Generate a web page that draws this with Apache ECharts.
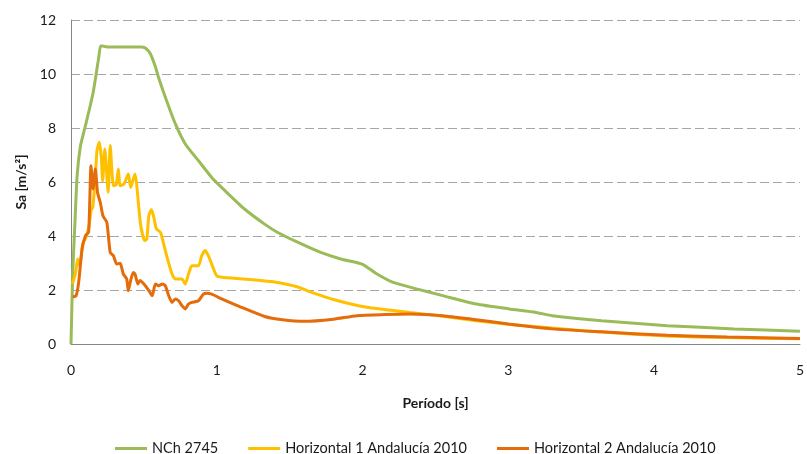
<!DOCTYPE html>
<html>
<head>
<meta charset="utf-8">
<script src="https://cdn.jsdelivr.net/npm/echarts@6/dist/echarts.min.js"></script>
<style>
html,body{margin:0;padding:0;background:#fff;}
#chart{width:807px;height:454px;}
</style>
</head>
<body>
<div id="chart"></div>
<script>
// NCh 2745 design spectrum
const nchT  = [0, 0.003, 0.012, 0.026, 0.042, 0.065, 0.095, 0.15, 0.19, 0.205, 0.25, 0.35, 0.45, 0.48, 0.51, 0.545, 0.58, 0.6, 0.647, 0.716, 0.784, 0.874, 0.965, 1.056, 1.19, 1.328, 1.418, 1.554, 1.713, 1.85, 1.997, 2.099, 2.21, 2.37, 2.55, 2.78, 3.005, 3.19, 3.3, 3.64, 4.09, 4.55, 5.0];
const nchSa = [0, 0.7, 2.65, 4.38, 6.23, 7.34, 8.0, 9.26, 10.6, 11.05, 11.0, 11.0, 11.0, 11.0, 10.96, 10.74, 10.25, 9.88, 9.14, 8.15, 7.41, 6.79, 6.17, 5.68, 5.0, 4.44, 4.13, 3.77, 3.39, 3.15, 2.96, 2.59, 2.28, 2.04, 1.79, 1.48, 1.30, 1.17, 1.05, 0.86, 0.68, 0.56, 0.47];

// Horizontal 1 Andalucía 2010
const h1T  = [0.01, 0.03, 0.046, 0.06, 0.08, 0.103, 0.126, 0.137, 0.149, 0.167, 0.178, 0.194, 0.208, 0.217, 0.232, 0.255, 0.269, 0.291, 0.31, 0.325, 0.337, 0.364, 0.393, 0.41, 0.439, 0.45, 0.477, 0.505, 0.52, 0.534, 0.552, 0.568, 0.586, 0.613, 0.636, 0.659, 0.693, 0.715, 0.761, 0.783, 0.806, 0.829, 0.874, 0.897, 0.92, 0.942, 0.965, 0.999, 1.033, 1.2, 1.418, 1.55, 1.622, 1.8, 2.03, 2.325, 2.5, 2.78, 3.0, 3.3, 3.64, 4.09, 4.5, 5.0];
const h1Sa = [2.22, 2.6, 3.15, 2.9, 3.7, 3.95, 4.44, 4.94, 5.06, 6.17, 7.16, 7.47, 6.91, 6.05, 7.22, 5.62, 7.35, 5.86, 5.9, 6.48, 5.86, 5.93, 6.30, 5.80, 6.30, 5.93, 4.44, 3.83, 3.89, 4.75, 4.98, 4.69, 4.26, 4.14, 3.70, 3.21, 2.59, 2.41, 2.41, 2.22, 2.59, 2.90, 2.90, 3.27, 3.46, 3.27, 2.96, 2.53, 2.47, 2.4, 2.28, 2.12, 1.97, 1.65, 1.36, 1.17, 1.06, 0.86, 0.73, 0.59, 0.44, 0.30, 0.24, 0.19];

// Horizontal 2 Andalucía 2010
const h2T  = [0.012, 0.035, 0.053, 0.076, 0.099, 0.121, 0.137, 0.151, 0.167, 0.182, 0.201, 0.219, 0.246, 0.269, 0.291, 0.314, 0.337, 0.359, 0.382, 0.393, 0.409, 0.427, 0.439, 0.459, 0.473, 0.5, 0.534, 0.557, 0.579, 0.602, 0.625, 0.647, 0.67, 0.693, 0.715, 0.738, 0.761, 0.783, 0.806, 0.829, 0.874, 0.908, 0.93, 0.965, 1.01, 1.169, 1.328, 1.45, 1.6, 1.8, 1.962, 2.15, 2.325, 2.55, 2.75, 3.0, 3.3, 3.64, 4.09, 4.5, 5.0];
const h2Sa = [1.75, 1.79, 2.3, 3.52, 4.01, 4.14, 6.6, 5.74, 6.48, 5.61, 5.24, 4.75, 4.50, 3.39, 3.27, 2.96, 2.99, 2.59, 2.41, 1.97, 2.35, 2.65, 2.59, 2.22, 2.35, 2.22, 1.98, 1.79, 2.22, 2.16, 2.22, 2.16, 1.79, 1.54, 1.67, 1.60, 1.42, 1.30, 1.48, 1.54, 1.60, 1.85, 1.88, 1.85, 1.73, 1.36, 1.02, 0.9, 0.84, 0.92, 1.05, 1.09, 1.11, 1.05, 0.92, 0.74, 0.56, 0.45, 0.32, 0.26, 0.2];

const seriesNames = ['NCh 2745', 'Horizontal 1 Andalucía 2010', 'Horizontal 2 Andalucía 2010'];
const xTitle = 'Período [s]';
const yTitle = 'Sa [m/s²]';

function zip(a, b) { return a.map((v, i) => [v, b[i]]); }

const FONT = 'Lato, "Open Sans", sans-serif';
const chart = echarts.init(document.getElementById('chart'), null, {renderer: 'canvas'});
chart.setOption({
  animation: false,
  backgroundColor: '#ffffff',
  textStyle: {fontFamily: FONT},
  grid: {left: 71, right: 2, top: 20, bottom: 110, containLabel: false},
  legend: {
    left: 110, top: 436,
    itemWidth: 32, itemHeight: 3, itemGap: 30,
    icon: 'rect',
    textStyle: {fontFamily: FONT, fontSize: 14.5, color: '#1a1a1a'},
    data: seriesNames
  },
  xAxis: {
    type: 'value', min: 0, max: 5, interval: 1,
    name: xTitle, nameLocation: 'middle', nameGap: 52,
    nameTextStyle: {fontFamily: FONT, fontSize: 14, fontWeight: 'bold', color: '#1a1a1a'},
    axisLine: {show: true, lineStyle: {color: '#868686', width: 1}},
    axisTick: {show: false},
    axisLabel: {fontFamily: FONT, fontSize: 14, color: '#1a1a1a', margin: 19},
    splitLine: {show: false}
  },
  yAxis: {
    type: 'value', min: 0, max: 12, interval: 2,
    name: yTitle, nameLocation: 'middle', nameGap: 43, nameRotate: 90,
    nameTextStyle: {fontFamily: FONT, fontSize: 14, fontWeight: 'bold', color: '#1a1a1a'},
    axisLine: {show: true, lineStyle: {color: '#868686', width: 1}},
    axisTick: {show: false},
    axisLabel: {fontFamily: FONT, fontSize: 14, color: '#1a1a1a', margin: 15},
    splitLine: {show: true, lineStyle: {color: '#a6a6a6', width: 1, type: [9, 4]}}
  },
  series: [
    {name: seriesNames[0], type: 'line', data: zip(nchT, nchSa), showSymbol: false, smooth: 0.2,
     lineStyle: {color: '#9BBB59', width: 3}, itemStyle: {color: '#9BBB59'}},
    {name: seriesNames[1], type: 'line', data: zip(h1T, h1Sa), showSymbol: false, smooth: 0.2,
     lineStyle: {color: '#FFC000', width: 3}, itemStyle: {color: '#FFC000'}},
    {name: seriesNames[2], type: 'line', data: zip(h2T, h2Sa), showSymbol: false, smooth: 0.2,
     lineStyle: {color: '#E46C0A', width: 3}, itemStyle: {color: '#E46C0A'}}
  ]
});
</script>
</body>
</html>
